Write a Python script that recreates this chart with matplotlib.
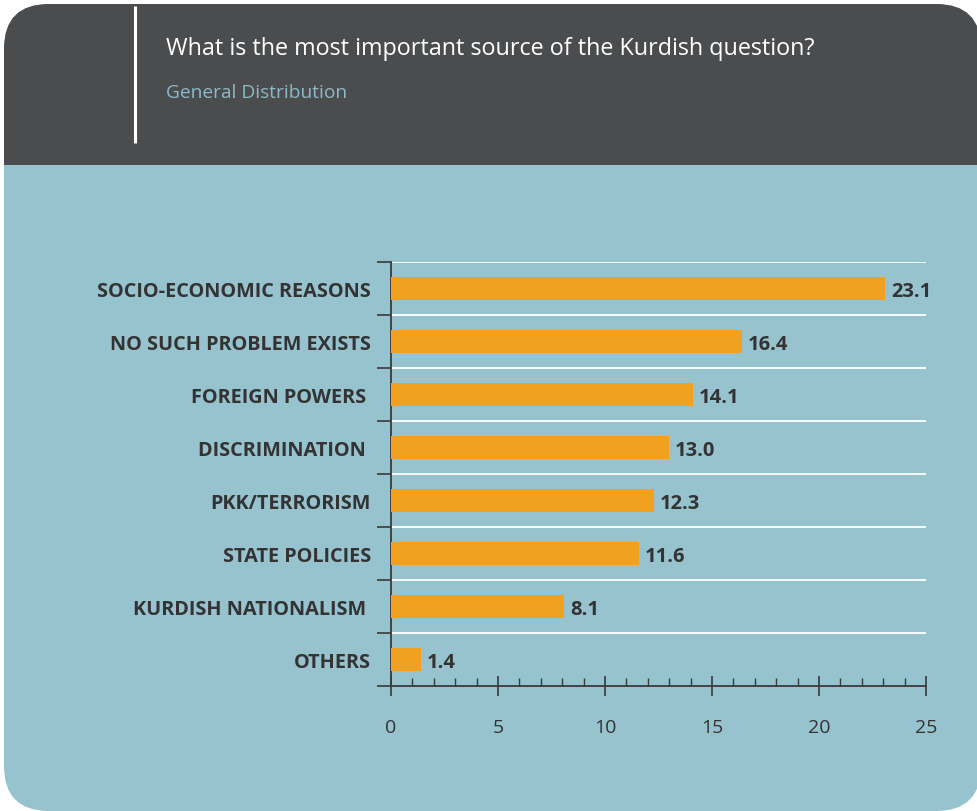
import matplotlib
matplotlib.use("Agg")
import matplotlib.pyplot as plt
from matplotlib.patches import FancyBboxPatch, Rectangle
from matplotlib.ticker import MultipleLocator

title = "What is the most important source of the Kurdish question?"
subtitle = "General Distribution"
categories = ["SOCIO-ECONOMIC REASONS", "NO SUCH PROBLEM EXISTS", "FOREIGN POWERS ",
              "DISCRIMINATION ", "PKK/TERRORISM", "STATE POLICIES",
              "KURDISH NATIONALISM ", "OTHERS"]
values = [23.1, 16.4, 14.1, 13.0, 12.3, 11.6, 8.1, 1.4]
xticks = [0, 5, 10, 15, 20, 25]

FONT = ["Open Sans", "DejaVu Sans"]
DARK = "#4b4c4e"
BLUE = "#97c3cf"
ORANGE = "#f2a020"
TXT = "#333333"

W, H = 977, 812
fig = plt.figure(figsize=(W / 100, H / 100), dpi=100)
fig.patch.set_facecolor("white")

bg = fig.add_axes([0, 0, 1, 1])
bg.set_xlim(0, W)
bg.set_ylim(H, 0)
bg.axis("off")
card = FancyBboxPatch((4, 5), 977, 807, boxstyle="round,pad=0,rounding_size=45",
                      facecolor=BLUE, edgecolor="none")
bg.add_patch(card)
head = Rectangle((0, 0), W + 10, 166, facecolor=DARK, edgecolor="none")
bg.add_patch(head)
head.set_clip_path(card)
bg.plot([135, 135], [7, 144], color="white", lw=2.2, solid_capstyle="butt")
bg.text(166, 55, title, color="white", fontsize=16.8, family=FONT, va="baseline", ha="left")
bg.text(166, 97.5, subtitle, color="#8bbac7", fontsize=13.8, family=FONT, va="baseline", ha="left")

ax = fig.add_axes([391 / W, 1 - 687 / H, (926 - 391) / W, (687 - 263) / H])
ax.patch.set_alpha(0)
n = len(categories)
ypos = list(range(n))
ax.barh(ypos, values, height=0.44, color=ORANGE, zorder=3)
ax.set_xlim(0, 25)
ax.set_ylim(n - 0.5, -0.5)

for y, v in zip(ypos, values):
    ax.annotate(f"{v:.1f}", xy=(v, y), xytext=(4, 0), textcoords="offset points",
                va="center_baseline", ha="left", fontsize=14.5,
                fontweight="bold", color=TXT, family=FONT, zorder=4)

# gridlines at category boundaries
for b in range(n):
    ax.axhline(b - 0.5, color="white", lw=1.3, zorder=1)

ax.set_yticks(ypos)
ax.set_yticklabels(categories, fontsize=14.3, fontweight="bold", color=TXT, family=FONT)
ax.tick_params(axis="y", which="major", length=0, pad=14.5)
ax.set_yticks([b - 0.5 for b in range(n + 1)], minor=True)
ax.tick_params(axis="y", which="minor", length=10, width=1.2, color="#3a3a3a", direction="out")
for lab in ax.get_yticklabels():
    lab.set_verticalalignment("center_baseline")

ax.set_xticks(xticks)
ax.set_xticklabels([str(t) for t in xticks], fontsize=14, color=TXT, family=FONT)
ax.xaxis.set_minor_locator(MultipleLocator(1))
ax.tick_params(axis="x", which="major", direction="inout", length=14, width=1.2,
               color="#3a3a3a", pad=16)
ax.tick_params(axis="x", which="minor", direction="in", length=6, width=1.0, color="#3a3a3a")

for s in ["top", "right"]:
    ax.spines[s].set_visible(False)
for s in ["left", "bottom"]:
    ax.spines[s].set_color("#3a3a3a")
    ax.spines[s].set_linewidth(1.3)

fig.savefig("out.png", dpi=100, facecolor="white")
